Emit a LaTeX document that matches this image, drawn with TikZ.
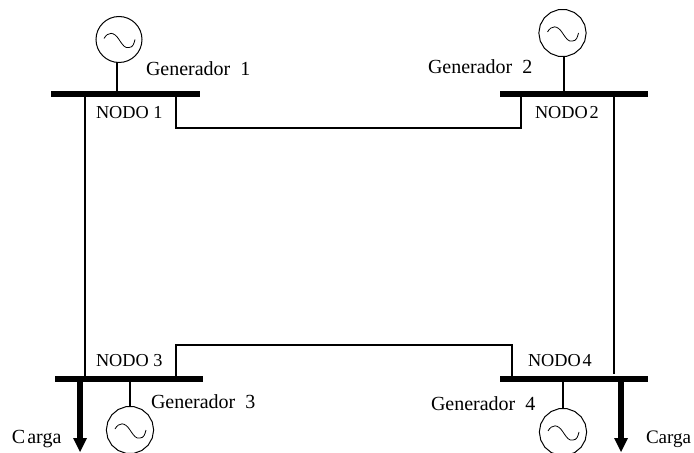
\documentclass[tikz,border=0pt]{standalone}
\usepackage{fontspec}
\setmainfont{Liberation Serif}
\usetikzlibrary{shapes.geometric,calc}
\tikzset{
  px/.style={x=0.75pt,y=-0.75pt},
  busbar/.style={fill=black,draw=none,minimum height=4.8pt,inner sep=0pt,outer sep=0pt},
  gencirc/.style={circle,draw=black,line width=0.75pt,minimum size=34.5pt,inner sep=0pt,outer sep=0pt},
  genpoly/.style={regular polygon,regular polygon sides=18,draw=black,line width=0.75pt,minimum size=35.5pt,inner sep=0pt,outer sep=0pt},
  wire/.style={line width=1.5pt,line cap=butt},
  loadwire/.style={line width=4pt},
  head/.style={fill=black,draw=none},
  lab/.style={anchor=base west,inner sep=0pt,outer sep=0pt,font=\fontsize{15pt}{17pt}\selectfont},
  nodolab/.style={anchor=base west,inner sep=0pt,outer sep=0pt,font=\fontsize{13.7pt}{16pt}\selectfont},
}
\newcommand{\sinewave}[1]{%
  \draw[line width=0.6pt] ($(#1)+(-15,-1)$) .. controls ($(#1)+(-11,-8)$) and ($(#1)+(-5,-8)$) .. ($(#1)+(0,0)$)
     .. controls ($(#1)+(4,6)$) and ($(#1)+(6,9)$) .. ($(#1)+(10,8)$)
     .. controls ($(#1)+(14,8)$) and ($(#1)+(15,4)$) .. ($(#1)+(16,0)$);}
\begin{document}
\begin{tikzpicture}[px]
\useasboundingbox (0,0) rectangle (694,453);
% buses
\node[busbar,minimum width=111.75pt] (b1) at (125.5,94) {};
\node[busbar,minimum width=111pt] (b2) at (574,94) {};
\node[busbar,minimum width=111pt] (b3) at (129,379) {};
\node[busbar,minimum width=111pt] (b4) at (574,379) {};
% generators
\node[gencirc] (g1) at (119,39.5) {};
\node[genpoly] (g2) at (562.5,33) {};
\node[genpoly] (g3) at (130,430) {};
\node[genpoly] (g4) at (563,432) {};
\sinewave{g1}\sinewave{g2}\sinewave{g3}\sinewave{g4}
\coordinate (s1) at (116.5,62);
\coordinate (s2) at (564,56);
\draw[wire] (s1) -- (s1 |- b1.north);
\draw[wire] (s2) -- (s2 |- b2.north);
\draw[wire] (g3.north) -- (g3 |- b3.south);
\draw[wire] (g4.north) -- (g4 |- b4.south);
% lines
\coordinate (l13) at (85,97);
\coordinate (r24) at (614,97);
\coordinate (t1) at (176,97);
\coordinate (t2) at (521,97);
\coordinate (u3) at (175.5,376);
\coordinate (u4) at (512,376);
\draw[wire] (l13) -- (l13 |- b3.north);
\draw[wire] (r24) -- (614,374);
\draw[wire,line join=miter] (t1) -- (176,128) -- (521,128) -- (t2);
\draw[wire,line join=miter] (u3) -- (175.5,345) -- (512,345) -- (u4);
% loads
\coordinate (c1) at (80,382);
\coordinate (c2) at (621,382);
\coordinate (ce1) at (80,438);
\coordinate (ce2) at (621,438);
\draw[loadwire] (c1) -- (ce1);
\draw[loadwire] (c2) -- (ce2);
\fill[head] (73,438) -- (87,438) -- (80,452) -- cycle;
\fill[head] (614,438) -- (628,438) -- (621,452) -- cycle;
% labels
\node[lab] (tg1) at (146,76) {Generador\ \ 1};
\node[lab] (tg2) at (428,74) {Generador\ \ 2};
\node[lab] (tg3) at (151,408) {Generador\ \ 3};
\node[lab] (tg4) at (431,410) {Generador\ \ 4};
\node[nodolab] (n1) at (96,119) {NODO 1};
\node[nodolab] (n2) at (535,119) {NODO\kern1.5pt 2};
\node[nodolab] (n3) at (96,367) {NODO 3};
\node[nodolab] (n4) at (528,367) {NODO\kern1.5pt 4};
\node[lab] (cl) at (12,443) {C\kern1.5pt arga};
\node[lab,font=\fontsize{14.3pt}{17pt}\selectfont] (cr) at (646,443) {Carga};
\end{tikzpicture}
\end{document}
